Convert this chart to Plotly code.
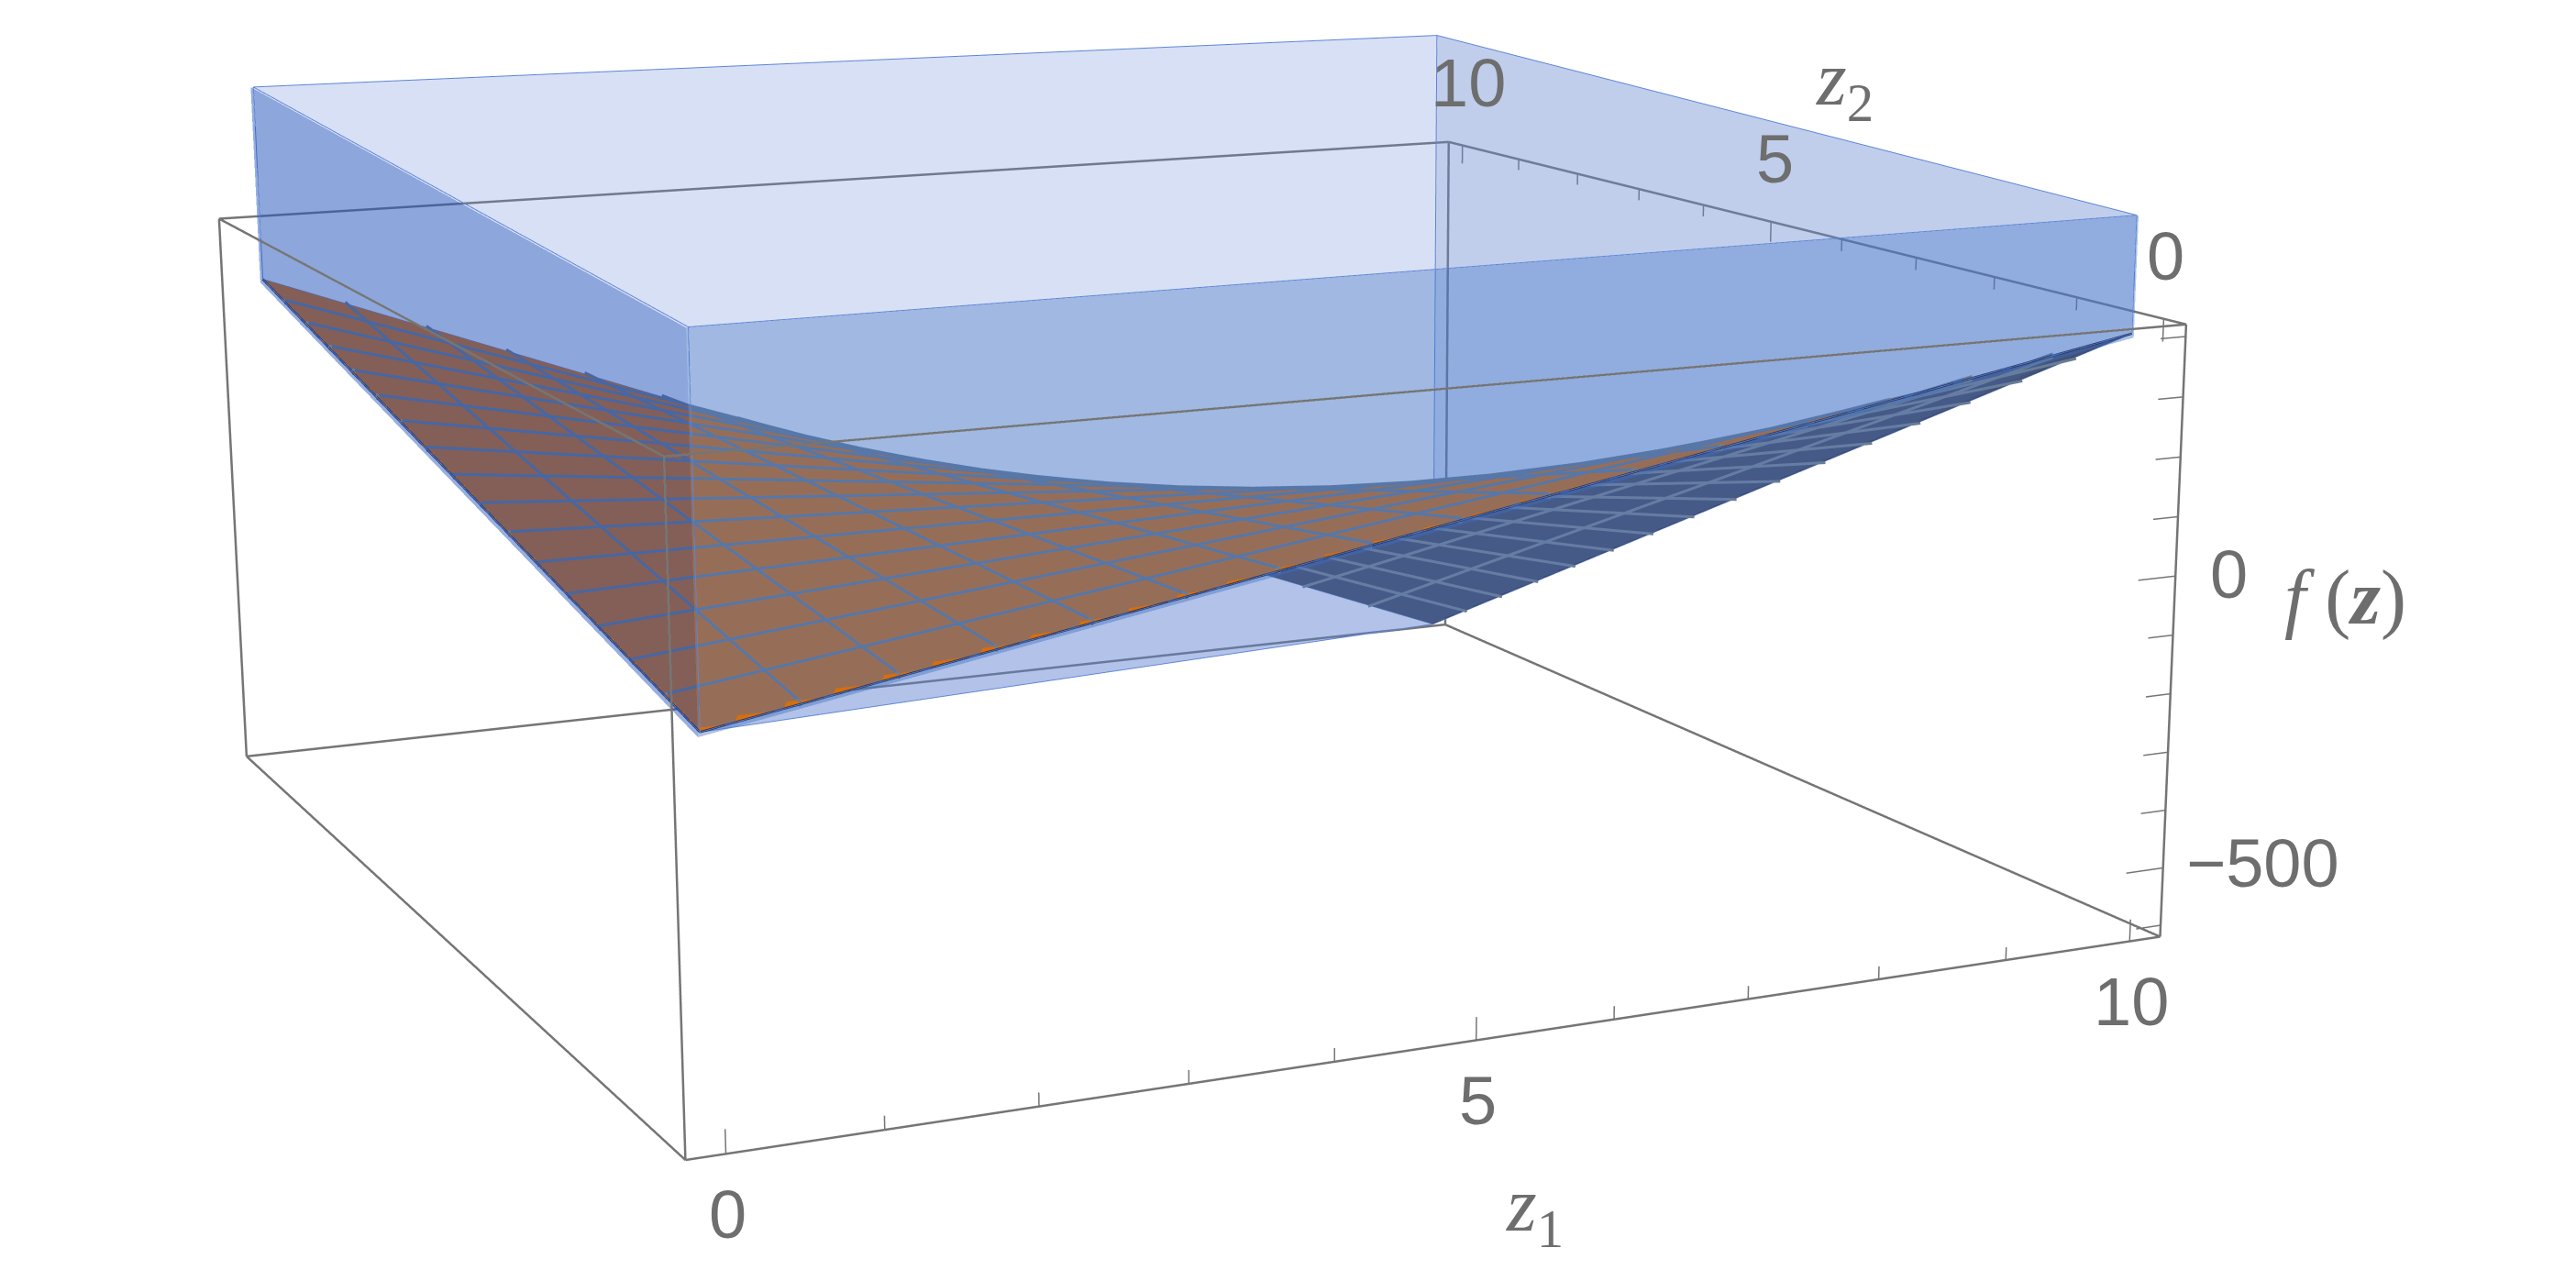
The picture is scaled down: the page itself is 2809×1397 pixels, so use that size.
import numpy as np
import plotly.graph_objects as go

mesh_positions = [0, 0.625, 1.25, 1.875, 2.5, 3.125, 3.75, 4.375, 5, 5.625, 6.25, 6.875, 7.5, 8.125, 8.75, 9.375, 10]
f_values = [
    [0, 25, 50, 75, 100, 125, 150, 175, 200, 225, 250, 275, 300, 325, 350, 375, 400],
    [19.4, 39.3, 59.1, 79.0, 98.9, 118.8, 138.7, 158.6, 178.4, 198.3, 218.2, 238.1, 258.0, 277.9, 297.7, 317.6, 337.5],
    [38.8, 53.5, 68.3, 83.0, 97.8, 112.6, 127.3, 142.1, 156.9, 171.6, 186.4, 201.2, 215.9, 230.7, 245.5, 260.2, 275.0],
    [58.1, 67.8, 77.4, 87.1, 96.7, 106.4, 116.0, 125.7, 135.3, 145.0, 154.6, 164.3, 173.9, 183.6, 193.2, 202.9, 212.5],
    [77.5, 82.0, 86.6, 91.1, 95.6, 100.2, 104.7, 109.2, 113.8, 118.3, 122.8, 127.4, 131.9, 136.4, 141.0, 145.5, 150.0],
    [96.9, 96.3, 95.7, 95.1, 94.5, 94.0, 93.4, 92.8, 92.2, 91.6, 91.0, 90.4, 89.9, 89.3, 88.7, 88.1, 87.5],
    [116.3, 110.5, 104.8, 99.1, 93.4, 87.7, 82.0, 76.3, 70.6, 64.9, 59.2, 53.5, 47.8, 42.1, 36.4, 30.7, 25.0],
    [135.6, 124.8, 114.0, 103.2, 92.4, 81.5, 70.7, 59.9, 49.1, 38.3, 27.4, 16.6, 5.8, -5.0, -15.8, -26.7, -37.5],
    [155, 139.1, 123.1, 107.2, 91.3, 75.3, 59.4, 43.4, 27.5, 11.6, -4.4, -20.3, -36.2, -52.2, -68.1, -84.0, -100],
    [174.4, 153.3, 132.3, 111.2, 90.2, 69.1, 48.1, 27.0, 6.0, -15.1, -36.2, -57.2, -78.3, -99.3, -120.4, -141.4, -162.5],
    [193.8, 167.6, 141.4, 115.2, 89.1, 62.9, 36.7, 10.6, -15.6, -41.8, -68.0, -94.1, -120.3, -146.5, -172.6, -198.8, -225],
    [213.1, 181.8, 150.6, 119.3, 88.0, 56.7, 25.4, -5.9, -37.2, -68.5, -99.8, -131.1, -162.3, -193.6, -224.9, -256.2, -287.5],
    [232.5, 196.1, 159.7, 123.3, 86.9, 50.5, 14.1, -22.3, -58.7, -95.1, -131.5, -168.0, -204.3, -240.8, -277.2, -313.6, -350],
    [251.9, 210.4, 168.8, 127.3, 85.8, 44.3, 2.8, -38.8, -80.3, -121.8, -163.3, -204.8, -246.4, -287.9, -329.4, -370.9, -412.5],
    [271.3, 224.6, 178.0, 131.3, 84.7, 38.1, -8.6, -55.2, -101.9, -148.5, -195.1, -241.8, -288.4, -335.0, -381.7, -428.3, -475],
    [290.6, 238.9, 187.1, 135.4, 83.6, 31.9, -19.9, -71.7, -123.4, -175.2, -226.9, -278.7, -330.4, -382.2, -433.9, -485.7, -537.5],
    [310, 253.1, 196.3, 139.4, 82.5, 25.6, -31.3, -88.1, -145, -201.9, -258.8, -315.6, -372.5, -429.4, -486.3, -543.1, -600],
]
corner_z1 = [0, 10, 10, 0]
corner_z2 = [0, 0, 10, 10]
corner_f = [0, 400, -600, 310]
hull_top = [590, 595, 652, 670]

box_z1 = [-0.25, 10.25]
box_z2 = [-0.25, 10.25]
box_f = [-620, 420]
scene_z1 = [-0.3, 10.3]
scene_z2 = [-0.3, 10.3]
scene_f = [-630, 680]

z1_major = [0, 5, 10]
z1_minor = [1, 2, 3, 4, 6, 7, 8, 9]
z2_major = [0, 5, 10]
z2_minor = [1, 2, 3, 4, 6, 7, 8, 9]
f_major = [-500, 0]
f_minor = [-600, -400, -300, -200, -100, 100, 200, 300, 400]
f_labels = ["\u2212500", "0"]

GREY = "#757575"
TEXT = "#6e6e6e"
EDGE = "rgb(92,132,214)"

EYE = dict(x=-1.325, y=-2.993, z=0.657)
CENTER = dict(x=0.100, y=-0.045, z=-0.113)
UP = dict(x=0.0099, y=-0.0048, z=1)
ASPECT = dict(x=1.0197, y=1.0197, z=0.5096)
FOVY = 0.263

x = np.array(mesh_positions)
z = np.array(f_values, dtype=float)
# Which side of the sheet faces the camera decides the colour (upper orange, underside navy).
sx = ASPECT["x"] / (scene_z1[1] - scene_z1[0])
sz = ASPECT["z"] / (scene_f[1] - scene_f[0])
zmid = (scene_f[0] + scene_f[1]) / 2
dfy, dfx = np.gradient(z, x, x)
X, Y = np.meshgrid(x, x)
wx, wy, wz = (X - 5) * sx, (Y - 5) * sx, (z - zmid) * sz
nx, ny, nz = -dfx * sz / sx, -dfy * sz / sx, np.ones_like(z)
facing = nx * (EYE["x"] - wx) + ny * (EYE["y"] - wy) + nz * (EYE["z"] - wz)
lim = float(np.abs(facing).max())

flat = dict(ambient=1, diffuse=0, specular=0, fresnel=0, roughness=1)
grid_line = "rgb(105,125,148)"
fig = go.Figure()

fig.add_trace(go.Surface(
    x=mesh_positions, y=mesh_positions, z=f_values, surfacecolor=facing,
    cmin=-lim, cmax=lim, showscale=False, hoverinfo="skip", lighting=flat,
    colorscale=[[0, "rgb(63,77,110)"], [0.5, "rgb(63,77,110)"], [0.5, "rgb(216,110,10)"], [1, "rgb(216,110,10)"]],
))


def lines(segments, color, width):
    xs, ys, zs = [], [], []
    for a, b in segments:
        xs += [a[0], b[0], None]
        ys += [a[1], b[1], None]
        zs += [a[2], b[2], None]
    fig.add_trace(go.Scatter3d(x=xs, y=ys, z=zs, mode="lines", line=dict(color=color, width=width), hoverinfo="skip"))


# mesh lines drawn just above and just below the sheet so both sides show them
n = len(mesh_positions)
for lift in (3, -3):
    segs = []
    for i in range(1, n - 1):
        for j in range(n - 1):
            segs.append(((x[j], x[i], z[i, j] + lift), (x[j + 1], x[i], z[i, j + 1] + lift)))
            segs.append(((x[i], x[j], z[j, i] + lift), (x[i], x[j + 1], z[j + 1, i] + lift)))
    lines(segs, grid_line, 6)


def face(xs, ys, zs, color, opacity):
    m = len(xs)
    fig.add_trace(go.Mesh3d(
        x=xs, y=ys, z=zs, i=[0] * (m - 2), j=list(range(1, m - 1)), k=list(range(2, m)),
        color=color, opacity=opacity, lighting=flat, hoverinfo="skip", flatshading=True,
    ))


cx, cy, cf = corner_z1, corner_z2, corner_f
T = hull_top
PAD = 0.02  # near walls stand just proud of the sheet's edge
lo = cx[0] - PAD
# back to front: bottom facets, far walls, near walls, top
face([cx[0], cx[3], cx[2]], [cy[0], cy[3], cy[2]], [cf[0], cf[3], cf[2]], "rgb(90,125,205)", 0.27)
face([cx[0], cx[1], cx[2]], [cy[0], cy[1], cy[2]], [cf[0], cf[1], cf[2]], "rgb(90,125,205)", 0.27)
face([cx[2], cx[3], cx[3], cx[2]], [cy[2], cy[3], cy[3], cy[2]], [cf[2], cf[3], T[3], T[2]], "rgb(100,135,210)", 0.14)
face([cx[1], cx[2], cx[2], cx[1]], [cy[1], cy[2], cy[2], cy[1]], [cf[1], cf[2], T[2], T[1]], "rgb(100,135,210)", 0.31)
face([lo] * 4, [lo, cy[3], cy[3], lo], [cf[0] - 6, cf[3] - 6, T[3], T[0]], "rgb(27,76,184)", 0.45)
face([lo, cx[1], cx[1], lo], [lo] * 4, [cf[0] - 6, cf[1] - 6, T[1], T[0]], "rgb(59,110,195)", 0.42)
face([lo, cx[1], cx[2], lo], [lo, lo, cy[2], cy[3]], T, "rgb(100,135,210)", 0.14)

bottom = [(cx[i], cy[i], cf[i]) for i in range(4)]
top = [(cx[i], cy[i], T[i]) for i in range(4)]
lines([(bottom[0], bottom[1]), (bottom[0], bottom[3])], "rgb(38,50,92)", 5)
hull_edges = []
for i in range(4):
    hull_edges += [(bottom[i], bottom[(i + 1) % 4]), (top[i], top[(i + 1) % 4]), (bottom[i], top[i])]
hull_edges.append((bottom[0], bottom[2]))
lines(hull_edges, EDGE, 2)

xl, xh = box_z1
yl, yh = box_z2
zl, zh = box_f
A, B, C, D = (xl, yl), (xh, yl), (xh, yh), (xl, yh)
ring = [A, B, C, D]
box_edges = []
for i in range(4):
    p, q = ring[i], ring[(i + 1) % 4]
    box_edges += [((*p, zl), (*q, zl)), ((*p, zh), (*q, zh)), ((*p, zl), (*p, zh))]
lines(box_edges, GREY, 5)

tick_segments = []
for v, ln in [(t, 38) for t in z1_major] + [(t, 22) for t in z1_minor]:
    tick_segments.append(((v, yl, zl), (v, yl, zl + ln)))
for v, ln in [(t, 38) for t in z2_major] + [(t, 22) for t in z2_minor]:
    tick_segments.append(((xh, v, zh), (xh, v, zh - ln)))
for v, ln in [(t, 0.30) for t in f_major] + [(t, 0.20) for t in f_minor]:
    tick_segments.append(((xh, yl, v), (xh - ln, yl, v)))
lines(tick_segments, GREY, 3)

tick_font = dict(family="Liberation Sans", size=74, color=TEXT)
math_font = dict(family="Liberation Serif", size=84, color=TEXT)
notes = []


def note(px, py, pz, text, font, dx, dy):
    notes.append(dict(x=px, y=py, z=pz, text=text, font=font, showarrow=False, xshift=dx, yshift=dy))


for t in z1_major:
    note(t, yl, zl, str(t), tick_font, 2, -66)
for t, dx in zip(z2_major, [2, 4, 6]):
    note(xh, t, zh, str(t), tick_font, dx, 68)
for t, s in zip(f_major, f_labels):
    note(xh, yl, t, s, tick_font, 109 if t < 0 else 58, 5 if t < 0 else 2)
note(5.3, yl, zl, "<i>z</i><sub>1</sub>", math_font, 18, -192)
note(xh, 5, zh, "<i>z</i><sub>2</sub>", math_font, 80, 150)
note(xh, yl, 0, "<i>f</i> (<b><i>z</i></b>)", math_font, 185, -24)

fig.update_layout(
    width=2809, height=1397, margin=dict(l=0, r=0, t=0, b=0), paper_bgcolor="white", showlegend=False,
    scene=dict(
        domain=dict(x=[0, 1], y=[0, 1]),
        xaxis=dict(visible=False, range=scene_z1),
        yaxis=dict(visible=False, range=scene_z2),
        zaxis=dict(visible=False, range=scene_f),
        aspectmode="manual", aspectratio=ASPECT,
        camera=dict(eye=EYE, center=CENTER, up=UP),
        annotations=notes,
    ),
)

narrow_lens = (
    "var g = document.getElementById('{plot_id}')._fullLayout.scene._scene.glplot;"
    "g.fovy = %f; g.redraw();" % FOVY
)
fig.write_html("out.html", post_script=narrow_lens)
